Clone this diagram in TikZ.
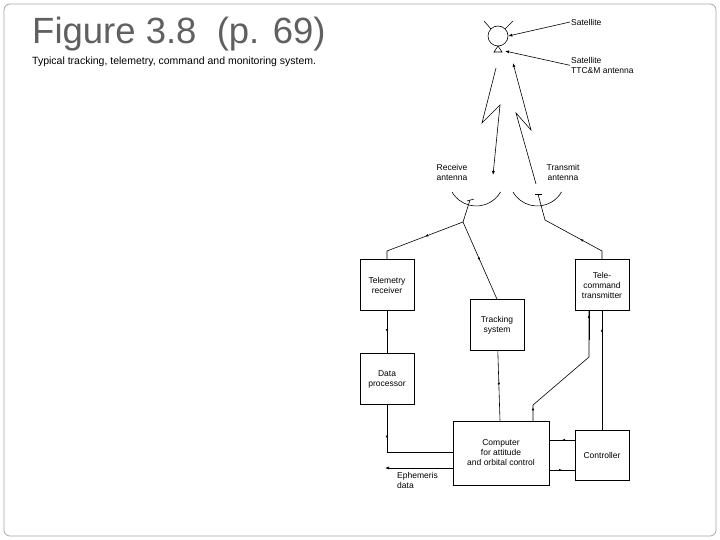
\documentclass[tikz,border=0pt]{standalone}
\usepackage{fontspec}
\setmainfont{Liberation Sans}
\usetikzlibrary{decorations.markings,arrows.meta}
\begin{document}
\begin{tikzpicture}[x=1pt,y=-1pt,
  box/.style={draw,line width=0.6pt,minimum width=54pt,minimum height=51pt,align=center,font=\fontsize{8.5}{10}\selectfont,inner sep=1pt},
  lbl/.style={font=\fontsize{8.5}{10}\selectfont,align=center,inner sep=1pt},
  ln/.style={line width=0.6pt},
  mid/.style={ln,decoration={markings,mark=at position #1 with {\arrow{Latex[length=3pt,width=2.5pt]}}},postaction={decorate}},
  mid/.default=0.5,
  tip/.style={ln,-{Latex[length=4pt,width=3pt]}}]
\useasboundingbox (0,0) rectangle (720,540);
\draw[gray!70,line width=0.8pt,rounded corners=6pt] (4,4) rectangle (716,536);
\node[anchor=west,text=gray!75!black,font=\fontsize{36.5}{40}\selectfont,inner sep=0] (title) at (32,34) {Figure 3.8\ \ (p. 69)};
\node[anchor=west,font=\fontsize{10.5}{12}\selectfont,inner sep=0] (sub) at (32,62) {Typical tracking, telemetry, command and monitoring system.};
% satellite
\node[draw,circle,ln,minimum size=20pt,inner sep=0] (sat) at (498,36) {};
\draw[ln] (491,29) -- (484,21) (505,29) -- (513,21);
\draw[ln] (498,46) -- (494,52) -- (502,52) -- cycle;
\coordinate (satant) at (505,51);
\node[lbl,anchor=west] (lsat) at (570,22) {Satellite};
\node[lbl,anchor=north west,align=left] (lant) at (570,56) {Satellite\\TTC\&M antenna};
\draw[tip] (lsat.west) -- (sat.east);
\draw[tip] (lant.west) -- (satant);
% links
\coordinate (d0) at (496,68);
\coordinate (d3) at (493,175);
\draw[tip] (d0) -- (482,123) -- (500,105) -- (d3);
\coordinate (u0) at (536,184);
\coordinate (u3) at (513,63);
\draw[tip] (u0) -- (516,113) -- (531,130) -- (u3);
\node[lbl] (lrx) at (452,172) {Receive\\antenna};
\node[lbl] (ltx) at (563,172) {Transmit\\antenna};
% dishes
\draw[ln] (452,192) arc[start angle=150,end angle=30,radius=28];
\draw[ln] (513,192) arc[start angle=150,end angle=30,radius=28];
\draw[ln] (467,201) -- (474,199);
\draw[ln] (535,194) -- (542,194);
\coordinate (rxb) at (463,222);
\coordinate (txb) at (545,220);
\draw[ln] (470,200) -- (rxb);
\draw[ln] (538,194) -- (txb);
% boxes
\node[box] (tel) at (387,285) {Telemetry\\receiver};
\node[box] (trk) at (497,325) {Tracking\\system};
\node[box] (tc) at (602,285) {Tele-\\command\\transmitter};
\node[box] (dp) at (387,379) {Data\\processor};
\node[box,minimum width=96pt,minimum height=64pt] (comp) at (501,453) {Computer\\for attitude\\and orbital control};
\node[box,minimum height=50pt] (ctl) at (602,455) {Controller};
% connectors
\draw[mid=0.45] (rxb) -- (387,251) -- (tel.north);
\draw[mid] (rxb) -- (trk.north);
\draw[mid=0.45] (tc.north) -- (602,251) -- (txb);
\draw[mid] (tel) -- (dp);
\draw[mid] (trk) -- (comp);
\draw[mid=0.3] (dp.south) |- (comp.west |- 0,452);
\draw[mid=0.1] (533,421) -- (533,405) -- (589,357) -- (589,311);
\draw[mid=0.87] (589,340) -- (589,311);
\draw[mid=0.85] (ctl.north) -- (tc.south);
\draw[mid] (ctl.west |- 0,440) -- (comp.east |- 0,440);
\draw[mid] (comp.east |- 0,470) -- (ctl.west |- 0,470);
\coordinate (eph) at (385,468);
\draw[tip] (comp.west |- 0,468) -- (eph);
\node[lbl,anchor=north west,align=left] (leph) at (396,471) {Ephemeris\\data};
\end{tikzpicture}
\end{document}
